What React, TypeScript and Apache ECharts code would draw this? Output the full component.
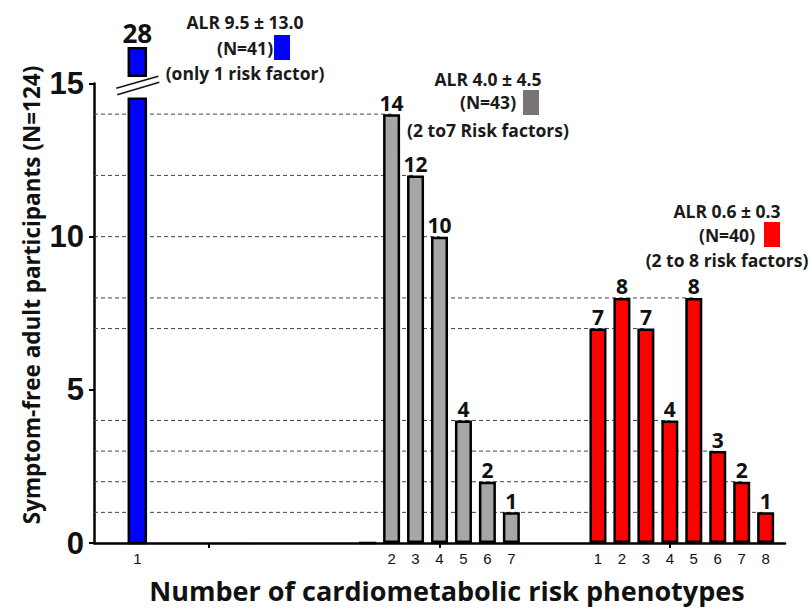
import React, { useEffect, useRef } from 'react';
import * as echarts from 'echarts';

// Participant counts per number of risk phenotypes, for the three ALR groups
const blueCounts = [28];
const grayCounts = [0, 14, 12, 10, 4, 2, 1];
const redCounts = [7, 8, 7, 4, 8, 3, 2, 1];

// Tick labels under each bar slot
const blueTickLabels = ['1'];
const grayTickLabels = ['', '2', '3', '4', '5', '6', '7'];
const redTickLabels = ['1', '2', '3', '4', '5', '6', '7', '8'];

// Group centres on the x scale and the tick marks drawn there
const groupCenters = [0.5, 1.5, 2.5];
const yTickValues = [0, 5, 10, 15];

// Annotation text for each group
const blueNote = ['ALR 9.5 ± 13.0', '(N=41)', '(only 1 risk factor)'];
const grayNote = ['ALR 4.0 ± 4.5', '(N=43)', '(2 to7 Risk factors)'];
const redNote = ['ALR 0.6 ± 0.3', '(N=40)', '(2 to 8 risk factors)'];

const yTitle = 'Symptom-free adult participants (N=124)';
const xTitle = 'Number of cardiometabolic risk phenotypes';

const BLUE = '#0000FF';
const GRAY = '#A6A6A6';
const GRAY_KEY = '#787474';
const RED = '#FF0000';

const SLOT = 0.104; // width of one bar slot on the x scale
const BAR_W = 17;
const BORDER = 2.5;

// broken y axis: values between BREAK_LOW and BREAK_HIGH are skipped,
// the upper piece resumes at BREAK_RESUME on the drawn scale
const BREAK_LOW = 14.5;
const BREAK_RESUME = 15.25;
const BREAK_HIGH = 27.1;

const SANS = '"Open Sans", Lato, sans-serif';
const ARIAL = '"Liberation Sans", Arial, sans-serif';

const slotPos = (group: number, slot: number) => groupCenters[group] + (slot - 4) * SLOT;

const blueData = blueCounts.map((v, i) => [slotPos(0, i + 1), v]);
const grayData = grayCounts.map((v, i) => [slotPos(1, i + 1), v]);
const redData = redCounts.map((v, i) => [slotPos(2, i + 1), v]);

const tickLabelMap = new Map<string, string>();
blueTickLabels.forEach((t, i) => t && tickLabelMap.set(slotPos(0, i + 1).toFixed(4), t));
grayTickLabels.forEach((t, i) => t && tickLabelMap.set(slotPos(1, i + 1).toFixed(4), t));
redTickLabels.forEach((t, i) => t && tickLabelMap.set(slotPos(2, i + 1).toFixed(4), t));
const labelPositions = Array.from(tickLabelMap.keys()).map(Number);

// dashed guide lines: from the y axis to the right-most bar of each height
const guideEnds = new Map<number, number>();
[...grayData, ...redData].forEach(([x, v]) => {
  if (v > 0 && v <= 15) guideEnds.set(v, Math.max(guideEnds.get(v) ?? 0, x));
});
const guideData = Array.from(guideEnds.entries()).map(([v, x]) => [v, x]);

function noteGraphic(lines: string[], cx: number, ys: number[], key: { x: number; y: number; color: string }) {
  const font = { fontFamily: SANS, fontWeight: 'bold' as const, fontSize: 17.5, fill: '#1a1a1a' };
  return [
    ...lines.map((t, i) => ({
      type: 'text',
      x: cx,
      y: ys[i],
      style: { text: t, align: 'center', verticalAlign: 'middle', ...font },
    })),
    { type: 'rect', shape: { x: key.x, y: key.y, width: 16, height: 25 }, style: { fill: key.color } },
  ];
}

export default function App() {
  const ref = useRef<HTMLDivElement>(null);

  useEffect(() => {
    if (!ref.current) return;
    const chart = echarts.init(ref.current, undefined, { renderer: 'svg' });

    const barLabel = {
      show: true,
      position: 'top',
      distance: 1,
      color: '#111',
      fontFamily: SANS,
      fontWeight: 'bold',
      fontSize: 21,
      formatter: (p: any) => (p.value[1] > 0 ? String(p.value[1]) : ''),
    };

    const option: any = {
      animation: false,
      backgroundColor: '#fff',
      grid: { left: 94, right: 26, top: 83.5, bottom: 67 },
      xAxis: {
        type: 'value',
        min: 0,
        max: 3,
        splitLine: { show: false },
        axisLine: { show: true, onZero: false, lineStyle: { color: '#000', width: 2.5 } },
        axisTick: { show: true, customValues: groupCenters, length: 5, lineStyle: { color: '#000', width: 2 } },
        axisLabel: {
          show: true,
          customValues: labelPositions,
          margin: 8,
          color: '#111',
          fontFamily: ARIAL,
          fontSize: 15,
          formatter: (v: number) => tickLabelMap.get(v.toFixed(4)) ?? '',
        },
      },
      yAxis: {
        type: 'value',
        min: 0,
        max: 15,
        interval: 5,
        splitLine: { show: false },
        axisLine: { show: true, lineStyle: { color: '#000', width: 2.5 } },
        axisTick: { show: true, length: 5, lineStyle: { color: '#000', width: 2 } },
        axisLabel: {
          margin: 10,
          color: '#111',
          fontFamily: ARIAL,
          fontWeight: 'bold',
          fontSize: 31,
          customValues: yTickValues,
        },
      },
      series: [
        {
          type: 'custom',
          name: 'guides',
          z: 1,
          silent: true,
          data: guideData,
          renderItem: (_p: any, api: any) => {
            const v = api.value(0);
            const xe = api.value(1);
            const a = api.coord([0, v]);
            const b = api.coord([xe, v]);
            return {
              type: 'line',
              shape: { x1: a[0], y1: a[1], x2: b[0], y2: b[1] },
              style: { stroke: '#444', lineWidth: 1, lineDash: [4, 3] },
            };
          },
        },
        {
          type: 'custom',
          name: 'only 1 risk factor',
          z: 3,
          clip: false,
          data: blueData,
          renderItem: (_p: any, api: any) => {
            const x = api.value(0);
            const v = api.value(1);
            const shown = v > BREAK_HIGH ? BREAK_RESUME + (v - BREAK_HIGH) : v;
            const [cx, y0] = api.coord([x, 0]);
            const yLow = api.coord([x, Math.min(v, BREAK_LOW)])[1];
            const yResume = api.coord([x, BREAK_RESUME])[1];
            const yTop = api.coord([x, shown])[1];
            const mid = (yLow + yResume) / 2;
            const bar = { fill: BLUE, stroke: '#000', lineWidth: BORDER };
            const children: any[] = [
              { type: 'rect', shape: { x: cx - BAR_W / 2, y: yLow, width: BAR_W, height: y0 - yLow }, style: bar },
            ];
            if (v > BREAK_HIGH) {
              children.push(
                { type: 'rect', shape: { x: cx - BAR_W / 2, y: yTop, width: BAR_W, height: yResume - yTop }, style: bar },
                { type: 'line', shape: { x1: cx - 21, y1: mid + 1, x2: cx + 21, y2: mid - 11 }, style: { stroke: '#111', lineWidth: 1.5 } },
                { type: 'line', shape: { x1: cx - 20, y1: mid + 7.5, x2: cx + 22, y2: mid - 5 }, style: { stroke: '#111', lineWidth: 1.5 } }
              );
            }
            children.push({
              type: 'text',
              x: cx,
              y: yTop - 2,
              style: {
                text: String(v),
                align: 'center',
                verticalAlign: 'bottom',
                fontFamily: SANS,
                fontWeight: 'bold',
                fontSize: 26,
                fill: '#111',
              },
            });
            return { type: 'group', children };
          },
        },
        {
          type: 'bar',
          name: '2 to 7 risk factors',
          z: 3,
          data: grayData,
          barWidth: BAR_W,
          itemStyle: { color: GRAY, borderColor: '#000', borderWidth: BORDER },
          label: barLabel,
        },
        {
          type: 'bar',
          name: '2 to 8 risk factors',
          z: 3,
          data: redData,
          barWidth: BAR_W,
          barGap: '-100%',
          itemStyle: { color: RED, borderColor: '#000', borderWidth: BORDER },
          label: barLabel,
        },
      ],
      graphic: [
        ...noteGraphic(blueNote, 245, [22, 48, 73], { x: 274, y: 35, color: BLUE }),
        ...noteGraphic(grayNote, 488, [79, 102, 130], { x: 523, y: 90, color: GRAY_KEY }),
        ...noteGraphic(redNote, 727, [211, 235, 260], { x: 764, y: 222, color: RED }),
        {
          type: 'text',
          x: 31,
          y: 295,
          rotation: Math.PI / 2,
          style: {
            text: yTitle,
            align: 'center',
            verticalAlign: 'middle',
            fontFamily: SANS,
            fontWeight: 'bold',
            fontSize: 22.5,
            fill: '#111',
          },
        },
        {
          type: 'text',
          x: 447,
          y: 590,
          style: {
            text: xTitle,
            align: 'center',
            verticalAlign: 'middle',
            fontFamily: SANS,
            fontWeight: 'bold',
            fontSize: 27,
            fill: '#111',
          },
        },
      ],
    };

    chart.setOption(option);
    return () => chart.dispose();
  }, []);

  return (
    <div
      ref={ref}
      style={{ position: 'fixed', left: 0, top: 0, width: 811, height: 610, background: '#fff' }}
    />
  );
}
